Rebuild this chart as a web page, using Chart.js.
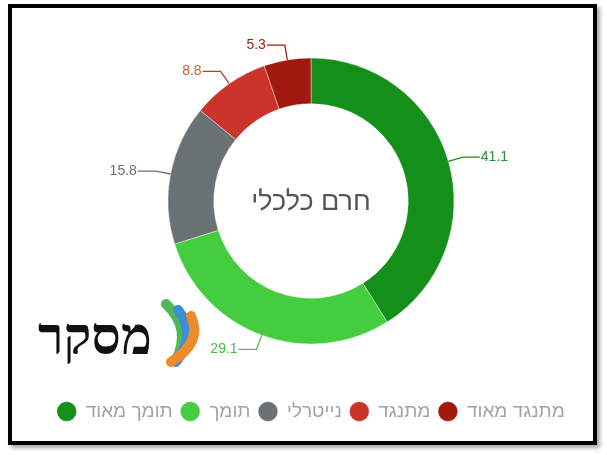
<!DOCTYPE html>
<html>
<head>
<meta charset="utf-8">
<script src="https://cdn.jsdelivr.net/npm/chart.js@4/dist/chart.umd.min.js"></script>
<style>
    body { margin: 0; background: #fff; }
    #wrap { position: relative; width: 607px; height: 455px; }
    #frame {
        position: absolute; left: 8px; top: 4px; width: 589px; height: 441px;
        box-sizing: border-box; border: 4px solid #000;
        box-shadow: 3px 3px 4px rgba(0, 0, 0, 0.35);
        pointer-events: none;
    }
</style>
</head>
<body>
<div id="wrap">
    <canvas id="pie-chart" width="607" height="455"></canvas>
    <div id="frame"></div>
</div>
<script>
// data
const labels = ['תומך מאוד', 'תומך', 'נייטרלי', 'מתנגד', 'מתנגד מאוד'];
const values = [41.1, 29.1, 15.8, 8.8, 5.3];
const sliceColors = ['#148f19', '#45cd40', '#6b7273', '#cb342b', '#a0190f'];
const labelColors = ['#2f8a34', '#45c03e', '#7d6c62', '#c4622a', '#a02218'];
const centerTitle = 'חרם כלכלי';
const logoText = 'מסקר';

// leader lines + value labels
const valueLabels = {
    id: 'valueLabels',
    afterDatasetsDraw(chart) {
        const ctx = chart.ctx;
        const meta = chart.getDatasetMeta(0);
        ctx.save();
        ctx.font = '14px "Liberation Sans Narrow", "Liberation Sans", sans-serif';
        ctx.textBaseline = 'middle';
        ctx.lineWidth = 1.3;
        meta.data.forEach(function (arc, i) {
            const p = arc.getProps(['x', 'y', 'startAngle', 'endAngle', 'outerRadius'], true);
            const a = (p.startAngle + p.endAngle) / 2;
            const x0 = p.x + Math.cos(a) * p.outerRadius;
            const y0 = p.y + Math.sin(a) * p.outerRadius;
            const x1 = p.x + Math.cos(a) * (p.outerRadius + 15);
            const y1 = p.y + Math.sin(a) * (p.outerRadius + 15);
            const right = Math.cos(a) >= 0;
            const x2 = right ? x1 + 17 : x1 - 18;
            ctx.strokeStyle = sliceColors[i];
            ctx.beginPath();
            ctx.moveTo(x0, y0);
            ctx.lineTo(x1, y1);
            ctx.lineTo(x2, y1);
            ctx.stroke();
            ctx.fillStyle = labelColors[i];
            ctx.textAlign = right ? 'left' : 'right';
            ctx.fillText(values[i].toFixed(1), right ? x2 + 1 : x2 - 1, y1);
        });
        ctx.restore();
    }
};

// title in the hole + logo
const extras = {
    id: 'extras',
    afterDraw(chart) {
        const ctx = chart.ctx;
        const meta = chart.getDatasetMeta(0);
        const c = meta.data[0];
        ctx.save();
        ctx.fillStyle = '#555';
        ctx.font = '27px "Liberation Sans", "DejaVu Sans", sans-serif';
        ctx.textAlign = 'center';
        ctx.textBaseline = 'middle';
        ctx.fillText(centerTitle, c.x, c.y + 2);

        // logo ribbons
        const ribbons = [['#4cb85a', 166, 304, 192, 328, 176, 360], ['#3a8fd6', 178, 310, 198, 334, 176, 362], ['#ee8a2a', 191, 316, 203, 342, 171, 362]];
        ribbons.forEach(function (r) {
            ctx.strokeStyle = r[0];
            ctx.lineWidth = 10;
            ctx.lineCap = 'round';
            ctx.beginPath();
            ctx.moveTo(r[1], r[2]);
            ctx.quadraticCurveTo(r[3], r[4], r[5], r[6]);
            ctx.stroke();
        });
        ctx.fillStyle = '#111';
        ctx.font = 'bold 52px "DejaVu Serif", serif';
        ctx.textAlign = 'left';
        ctx.textBaseline = 'alphabetic';
        ctx.fillText(logoText, 38, 354);
        ctx.restore();
    }
};

const ctx = document.getElementById('pie-chart').getContext('2d');
new Chart(ctx, {
    type: 'doughnut',
    data: {
        labels: labels,
        datasets: [{
            data: values,
            backgroundColor: sliceColors,
            borderColor: 'rgba(255,255,255,0.4)',
            borderWidth: 1,
            radius: 143,
            cutout: '68%'
        }]
    },
    options: {
        responsive: false,
        animation: false,
        cutout: '68%',
        layout: { padding: { left: 15, right: 0, top: 8, bottom: 24 } },
        plugins: {
            tooltip: { enabled: false },
            legend: {
                position: 'bottom',
                labels: {
                    usePointStyle: true,
                    pointStyle: 'circle',
                    boxWidth: 24,
                    boxHeight: 14,
                    padding: 8,
                    color: '#a3a3a3',
                    font: { size: 19, family: '"Liberation Sans", "DejaVu Sans", sans-serif' }
                }
            }
        }
    },
    plugins: [valueLabels, extras]
});
</script>
</body>
</html>
